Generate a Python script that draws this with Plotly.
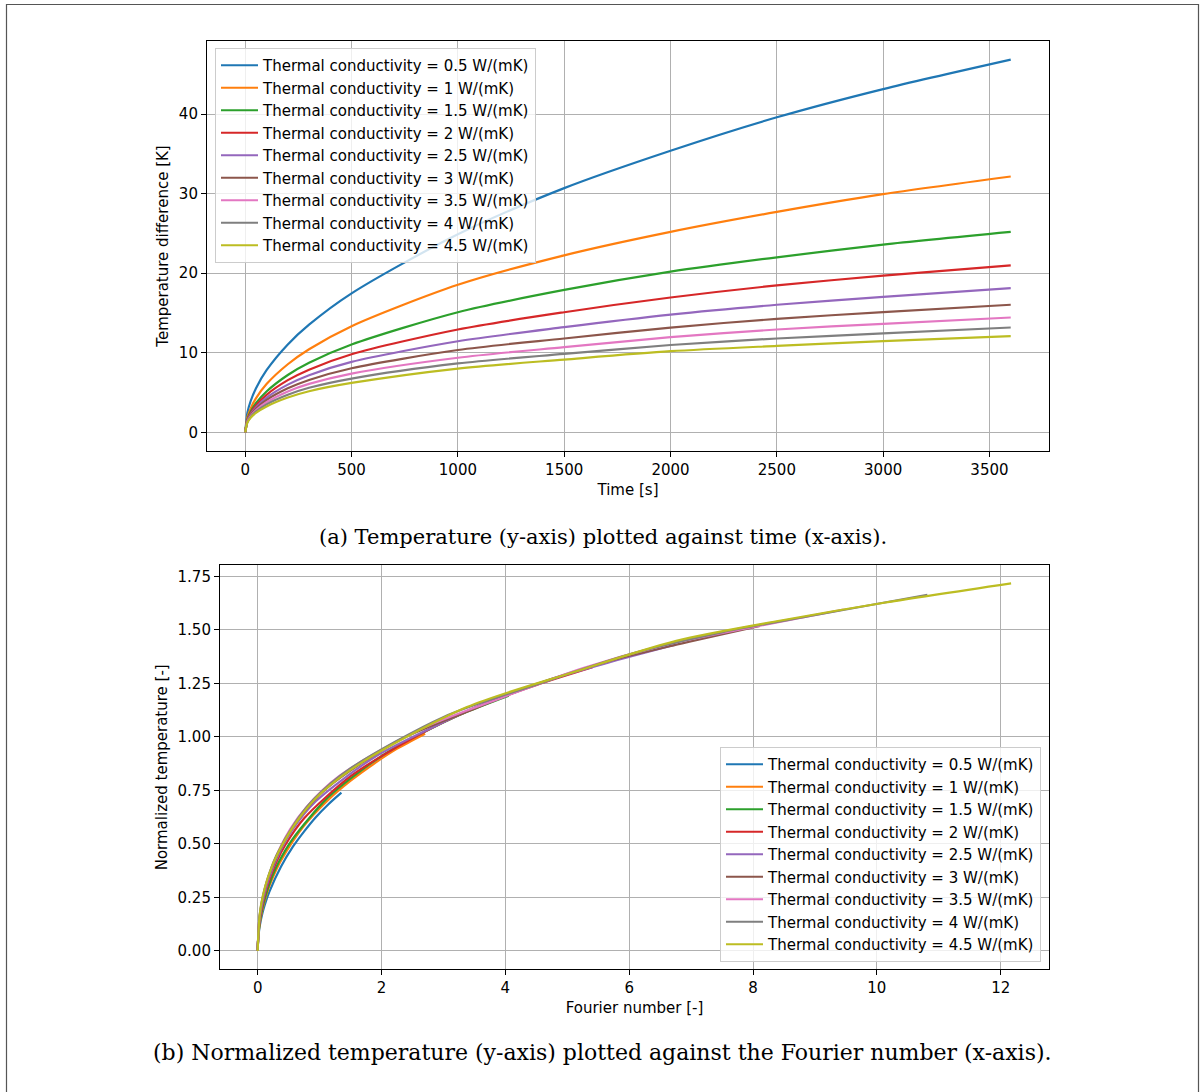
import plotly.graph_objects as go

W, H = 1200, 1092

# ---------------- data ----------------
conductivities = [0.5, 1, 1.5, 2, 2.5, 3, 3.5, 4, 4.5]
conductivity_labels = ["0.5", "1", "1.5", "2", "2.5", "3", "3.5", "4", "4.5"]

time_s = [0, 10, 25, 50, 100, 200, 300, 500, 1000, 1500, 2000, 2500, 3000, 3600]

dT_k0_5 = [0, 2.47, 3.91, 5.52, 7.81, 11.05, 13.53, 17.47, 24.9, 30.7, 35.4, 39.6, 43.15, 46.85]
dT_k1_0 = [0, 1.89, 2.99, 4.27, 6.07, 8.56, 10.45, 13.35, 18.55, 22.25, 25.2, 27.71, 29.94, 32.16]
dT_k1_5 = [0, 1.62, 2.58, 3.66, 5.14, 7.21, 8.75, 11.04, 15.1, 17.9, 20.2, 22.0, 23.6, 25.19]
dT_k2_0 = [0, 1.53, 2.40, 3.37, 4.72, 6.56, 7.88, 9.82, 12.93, 15.1, 16.95, 18.47, 19.69, 20.99]
dT_k2_5 = [0, 1.47, 2.27, 3.14, 4.36, 6.00, 7.19, 8.86, 11.45, 13.22, 14.8, 16.04, 17.04, 18.14]
dT_k3_0 = [0, 1.41, 2.16, 2.96, 4.07, 5.54, 6.59, 8.06, 10.35, 11.80, 13.17, 14.27, 15.11, 16.04]
dT_k3_5 = [0, 1.35, 2.04, 2.78, 3.79, 5.15, 6.09, 7.39, 9.38, 10.71, 11.96, 12.93, 13.64, 14.44]
dT_k4_0 = [0, 1.28, 1.92, 2.60, 3.52, 4.73, 5.60, 6.76, 8.66, 9.86, 10.98, 11.80, 12.43, 13.18]
dT_k4_5 = [0, 1.22, 1.82, 2.44, 3.26, 4.38, 5.17, 6.21, 8.02, 9.15, 10.2, 10.87, 11.46, 12.09]

temperature_differences = [dT_k0_5, dT_k1_0, dT_k1_5, dT_k2_0, dT_k2_5,
                           dT_k3_0, dT_k3_5, dT_k4_0, dT_k4_5]

FOURIER_PER_K_SECOND = 7.511e-4     # Fo = k * t * factor
NORM_PER_K_KELVIN = 0.03157         # theta = dT * k * factor

x1_ticks = [0, 500, 1000, 1500, 2000, 2500, 3000, 3500]
y1_ticks = [0, 10, 20, 30, 40]
x2_ticks = [0, 2, 4, 6, 8, 10, 12]
y2_ticks = [0, 0.25, 0.5, 0.75, 1.0, 1.25, 1.5, 1.75]

colors = ["#1f77b4", "#ff7f0e", "#2ca02c", "#d62728", "#9467bd",
          "#8c564b", "#e377c2", "#7f7f7f", "#bcbd22"]

# ---------------- figure ----------------
fig = go.Figure()

for k, lab, dT, c in zip(conductivities, conductivity_labels, temperature_differences, colors):
    name = f"Thermal conductivity = {lab} W/(mK)"
    fig.add_trace(go.Scatter(x=time_s, y=dT, mode="lines", name=name,
                             line=dict(color=c, width=2.2, shape="spline", smoothing=0.8),
                             xaxis="x", yaxis="y", legend="legend"))

for k, lab, dT, c in zip(conductivities, conductivity_labels, temperature_differences, colors):
    name = f"Thermal conductivity = {lab} W/(mK)"
    fo = [t * k * FOURIER_PER_K_SECOND for t in time_s]
    th = [v * k * NORM_PER_K_KELVIN for v in dT]
    fig.add_trace(go.Scatter(x=fo, y=th, mode="lines", name=name,
                             line=dict(color=c, width=2.2, shape="spline", smoothing=0.8),
                             xaxis="x2", yaxis="y2", legend="legend2"))

FONT = "DejaVu Sans"
tick_font = dict(family=FONT, size=15, color="black")

def px_x(p):
    return p / W

def px_y(p):
    return 1 - p / H

axis_common = dict(
    showline=True, linecolor="black", linewidth=1.1, mirror=True,
    ticks="outside", ticklen=5, tickwidth=1.1, tickcolor="black",
    showgrid=True, gridcolor="#b0b0b0", gridwidth=1.1,
    zeroline=False, tickfont=tick_font,
)

fig.update_layout(
    width=W, height=H, autosize=False,
    margin=dict(l=0, r=0, t=0, b=0),
    paper_bgcolor="white", plot_bgcolor="white",
    font=dict(family=FONT, size=15, color="black"),
    xaxis=dict(domain=[px_x(207), px_x(1049)], range=[-180, 3780],
               tickvals=x1_ticks, anchor="y",
               title=dict(text="Time [s]", font=dict(family=FONT, size=15), standoff=6),
               **axis_common),
    yaxis=dict(domain=[px_y(451), px_y(41)], range=[-2.3425, 49.19],
               tickvals=y1_ticks, anchor="x",
               title=dict(text="Temperature difference [K]", font=dict(family=FONT, size=15), standoff=6),
               **axis_common),
    xaxis2=dict(domain=[px_x(220), px_x(1049)], range=[-0.6085, 12.78],
                tickvals=x2_ticks, anchor="y2",
                title=dict(text="Fourier number [-]", font=dict(family=FONT, size=15), standoff=6),
                **axis_common),
    yaxis2=dict(domain=[px_y(969.3), px_y(565.3)], range=[-0.0858, 1.802],
                tickvals=y2_ticks, tickformat=".2f", anchor="x2",
                title=dict(text="Normalized temperature [-]", font=dict(family=FONT, size=15), standoff=6),
                **axis_common),
    legend=dict(x=px_x(215), y=px_y(48), xanchor="left", yanchor="top",
                bgcolor="rgba(255,255,255,0.8)", bordercolor="#cccccc", borderwidth=1,
                font=dict(family=FONT, size=15, color="black"), tracegroupgap=0,
                itemwidth=37),
    legend2=dict(x=px_x(1041), y=px_y(962), xanchor="right", yanchor="bottom",
                 bgcolor="rgba(255,255,255,0.8)", bordercolor="#cccccc", borderwidth=1,
                 font=dict(family=FONT, size=15, color="black"), tracegroupgap=0,
                 itemwidth=37),
    showlegend=True,
)

fig.add_annotation(xref="paper", yref="paper", x=px_x(603), y=px_y(537),
                   xanchor="center", yanchor="middle", showarrow=False,
                   text="(a) Temperature (y-axis) plotted against time (x-axis).",
                   font=dict(family="DejaVu Serif", size=21, color="black"))
fig.add_annotation(xref="paper", yref="paper", x=px_x(603), y=px_y(1052),
                   xanchor="center", yanchor="middle", showarrow=False,
                   text="(b) Normalized temperature (y-axis) plotted against the Fourier number (x-axis).",
                   font=dict(family="DejaVu Serif", size=22, color="black"))

fig.add_shape(type="rect", xref="paper", yref="paper",
              x0=px_x(6.5), x1=px_x(1198.5), y0=px_y(1100), y1=px_y(4.5),
              line=dict(color="#555555", width=1.2), fillcolor="rgba(0,0,0,0)", layer="below")

fig.write_html("out.html")
